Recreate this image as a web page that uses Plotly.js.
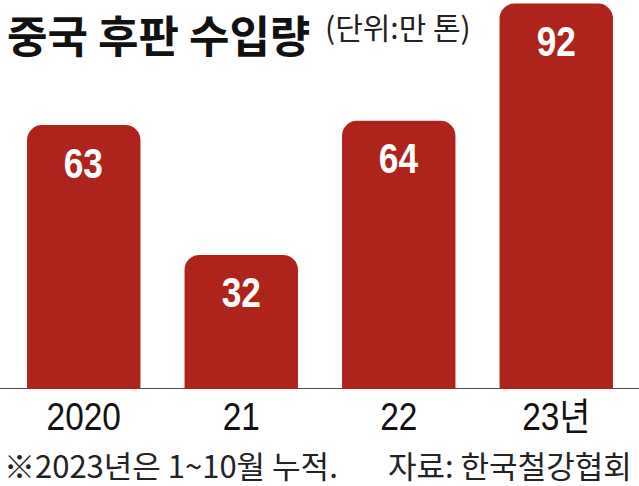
<!DOCTYPE html>
<html>
<head>
<meta charset="utf-8">
<script src="https://cdn.plot.ly/plotly-3.0.1.min.js"></script>
<style>html,body{margin:0;padding:0;background:#fff;}#chart{width:639px;height:486px;}</style>
</head>
<body>
<div id="chart"></div>
<script>
// Data
const categories = ["2020", "21", "22", "23년"];
const imports = [63, 32, 64, 92];
const valueLabels = ["63", "32", "64", "92"];
const titleMain = "중국 후판 수입량";
const titleUnit = "(단위:만 톤)";
const footNote = "※2023년은 1~10월 누적.";
const sourceNote = "자료: 한국철강협회";

const W = 639, H = 486;
const L = 5, R = 4, T = 0, B = 97;
const pw = W - L - R, ph = H - T - B;
const px = x => (x - L) / pw;
const py = y => (H - B - y) / ph;

const KR = "Noto Sans CJK KR";
const LAT = "Liberation Sans, " + KR;
const barColor = "#ae231c";

const trace = {
  type: "bar",
  x: categories,
  y: imports,
  width: 0.72,
  marker: {color: barColor, cornerradius: 15, line: {width: 0}},
  hoverinfo: "skip"
};

const annotations = categories.map((c, i) => ({
  x: i, y: imports[i], xref: "x", yref: "y",
  text: valueLabels[i], showarrow: false, name: "value",
  yanchor: "middle", xanchor: "center", yshift: -38,
  font: {family: LAT, size: 42, color: "#ffffff", weight: "bold"}
}));

annotations.push(
  {xref: "paper", yref: "paper", x: px(5), y: 1, xanchor: "left", yanchor: "top", yshift: 0,
   text: titleMain, showarrow: false, font: {family: KR, size: 44, weight: "bold", color: "#111"}},
  {xref: "paper", yref: "paper", x: px(323), y: py(26), xanchor: "left", yanchor: "middle",
   text: titleUnit, showarrow: false, font: {family: KR, size: 30, color: "#222"}},
  {xref: "paper", yref: "paper", x: px(2), y: py(486), xanchor: "left", yanchor: "bottom", yshift: -3,
   text: footNote, showarrow: false, font: {family: KR, size: 31, color: "#222"}},
  {xref: "paper", yref: "paper", x: px(634), y: py(486), xanchor: "right", yanchor: "bottom", yshift: -3,
   text: sourceNote, showarrow: false, font: {family: KR, size: 31, color: "#222"}}
);

const layout = {
  width: W, height: H,
  margin: {l: L, r: R, t: T, b: B, pad: 0},
  paper_bgcolor: "#fff", plot_bgcolor: "#fff",
  showlegend: false,
  xaxis: {
    type: "category", range: [-0.5, 3.5], fixedrange: true,
    showline: false, showgrid: false, zeroline: false, ticks: "",
    tickfont: {family: LAT, size: 38, color: "#111"},
    ticklabelstandoff: 2
  },
  yaxis: {range: [0, 92.84], visible: false, fixedrange: true},
  shapes: [{
    type: "line", xref: "paper", yref: "y", x0: px(0), x1: px(639), y0: 0, y1: 0,
    layer: "below", line: {color: "#111", width: 1.5}
  }],
  annotations: annotations
};

// horizontally condense a text element around its own centre (the reference type is condensed)
function condense(el, s) {
  const bb = el.getBBox();
  const cx = bb.x + bb.width / 2;
  const t = el.getAttribute("transform") || "";
  el.setAttribute("transform", t + " translate(" + cx + ",0) scale(" + s + ",1) translate(" + (-cx) + ",0)");
}

Plotly.newPlot("chart", [trace], layout, {displayModeBar: false, staticPlot: true}).then(gd => {
  gd.querySelectorAll(".xtick text").forEach(el => condense(el, 0.88));
  gd.querySelectorAll(".annotation").forEach((g, i) => {
    if (i < categories.length) {
      const t = g.querySelector("text");
      if (t) condense(t, 0.84);
    }
  });
});
</script>
</body>
</html>
